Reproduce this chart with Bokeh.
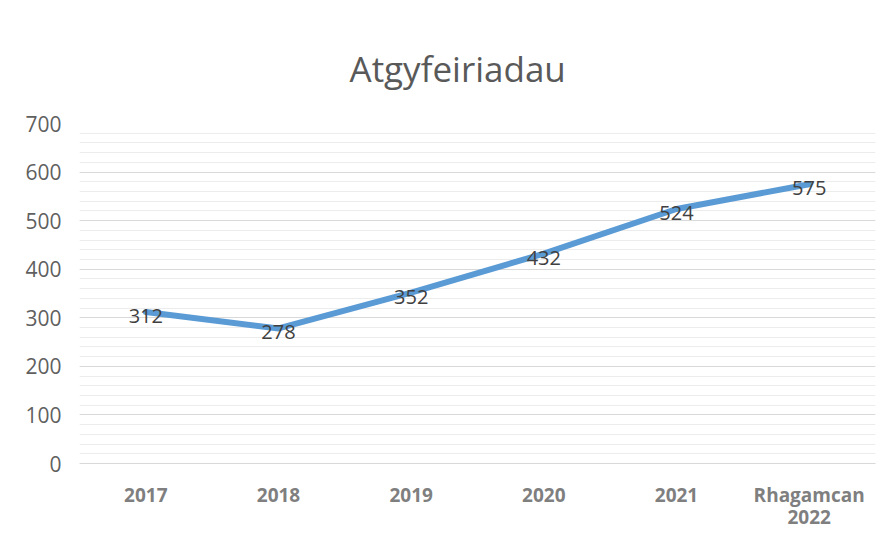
from bokeh.plotting import figure
from bokeh.models import ColumnDataSource, SingleIntervalTicker, Range1d, Title
from bokeh.core.properties import value
from bokeh.embed import file_html
from bokeh.resources import INLINE

categories = ["2017", "2018", "2019", "2020", "2021", "Rhagamcan\n2022"]
referrals = [312, 278, 352, 432, 524, 575]
title_text = "Atgyfeiriadau"

src = ColumnDataSource(dict(x=categories, y=referrals, lab=[str(v) for v in referrals]))

p = figure(x_range=categories, y_range=Range1d(0, 700), width=880, height=534,
           output_backend="svg", toolbar_location=None,
           min_border_left=79, min_border_right=5, min_border_top=123, min_border_bottom=71)
p.title = Title(text=title_text, align="left", offset=270, text_font="Open Sans",
                text_font_size="35px", text_font_style="normal", text_color="#595959",
                standoff=64)
p.outline_line_color = None
p.background_fill_color = "white"
p.border_fill_color = "white"

p.line("x", "y", source=src, line_color="#5B9BD5", line_width=6,
       line_join="round", line_cap="round")
p.text("x", "y", text="lab", source=src, text_align="center", text_baseline="middle",
       text_font=value("Open Sans"), text_font_size="20px", text_color="#404040",
       y_offset=4)

p.yaxis.ticker = SingleIntervalTicker(interval=100, num_minor_ticks=5)
p.ygrid.ticker = p.yaxis.ticker
p.ygrid.grid_line_color = "#d9d9d9"
p.ygrid.grid_line_width = 1
p.ygrid.minor_grid_line_color = "#ececec"
p.ygrid.minor_grid_line_width = 1
p.xgrid.grid_line_color = None

p.yaxis.axis_line_color = None
p.yaxis.major_tick_line_color = None
p.yaxis.minor_tick_line_color = None
p.yaxis.major_label_text_font = "Open Sans"
p.yaxis.major_label_text_font_size = "21px"
p.yaxis.major_label_text_color = "#5f5f5f"
p.yaxis.major_label_standoff = 12

p.xaxis.axis_line_color = "#d9d9d9"
p.xaxis.major_tick_line_color = None
p.xaxis.minor_tick_line_color = None
p.xaxis.major_label_text_font = "Open Sans"
p.xaxis.major_label_text_font_size = "19px"
p.xaxis.major_label_text_font_style = "bold"
p.xaxis.major_label_text_color = "#7f7f7f"
p.xaxis.major_label_text_line_height = 0.85
p.xaxis.major_label_standoff = 12

open("out.html", "w").write(file_html(p, INLINE))
